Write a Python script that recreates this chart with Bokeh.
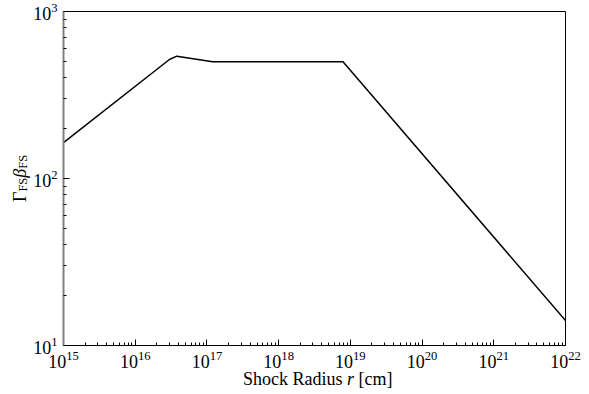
from bokeh.plotting import figure
from bokeh.models import Range1d, FixedTicker, LogTickFormatter, Div
from bokeh.layouts import row, column
from bokeh.embed import file_html
from bokeh.resources import INLINE

# Data
radius_cm = [1e15, 3.0e16, 3.8e16, 1.2e17, 7.9e18, 1e22]
gamma_beta = [164, 516, 540, 500, 500, 14.1]

x_major = [1e15, 1e16, 1e17, 1e18, 1e19, 1e20, 1e21, 1e22]
y_major = [10, 100, 1000]

x_minor = [m * t for t in x_major[:-1] for m in range(2, 10)]
y_minor = [m * t for t in y_major[:-1] for m in range(2, 10)]

FONT = "Liberation Serif"

p = figure(width=559, height=370, frame_width=502, frame_height=334,
           x_axis_type="log", y_axis_type="log",
           x_range=Range1d(1e15, 1e22), y_range=Range1d(10, 1000),
           output_backend="svg", toolbar_location=None,
           min_border_left=33, min_border_right=24, min_border_top=11, min_border_bottom=25)

p.line(radius_cm, gamma_beta, line_color="black", line_width=1.5)

p.xgrid.visible = False
p.ygrid.visible = False
p.outline_line_color = "black"
p.outline_line_width = 1

p.xaxis.ticker = FixedTicker(ticks=x_major, minor_ticks=x_minor)
p.yaxis.ticker = FixedTicker(ticks=y_major, minor_ticks=y_minor)
p.xaxis.formatter = LogTickFormatter()
p.yaxis.formatter = LogTickFormatter()

for ax in (p.xaxis, p.yaxis):
    ax.major_tick_in = 6
    ax.major_tick_out = 0
    ax.minor_tick_in = 3
    ax.minor_tick_out = 0
    ax.major_tick_line_color = "black"
    ax.minor_tick_line_color = "black"
    ax.major_label_text_font = FONT
    ax.major_label_text_font_size = "18px"
    ax.major_label_text_color = "black"
    ax.axis_label = None

p.xaxis.axis_line_color = "black"
p.yaxis.axis_line_color = "#808080"
p.yaxis.axis_line_width = 2
p.xaxis.major_label_standoff = 5
p.yaxis.major_label_standoff = 6

x_label_html = ('<div style="position:relative;width:589px;height:24px;">'
                '<div style="position:absolute;left:243px;top:-1px;white-space:nowrap;'
                f'font-family:\'{FONT}\';font-size:18px;line-height:20px;color:black;">'
                'Shock Radius <i>r</i> [cm]</div></div>')

sub = '<span style="font-size:12.5px;position:relative;top:1px;">FS</span>'
y_label_html = ('<div style="position:relative;width:30px;height:370px;">'
                '<div style="position:absolute;left:10px;top:202px;transform-origin:0 0;'
                'transform:rotate(-90deg);white-space:nowrap;'
                f'font-family:\'{FONT}\';font-size:18px;line-height:20px;color:black;">'
                f'Γ{sub}<i>β</i>{sub}</div></div>')

ydiv = Div(text=y_label_html, width=30, height=370, margin=0)
xdiv = Div(text=x_label_html, width=589, height=24, margin=0)

layout = column(row(ydiv, p, spacing=0), xdiv, spacing=0)

open("out.html", "w").write(file_html(layout, INLINE))
